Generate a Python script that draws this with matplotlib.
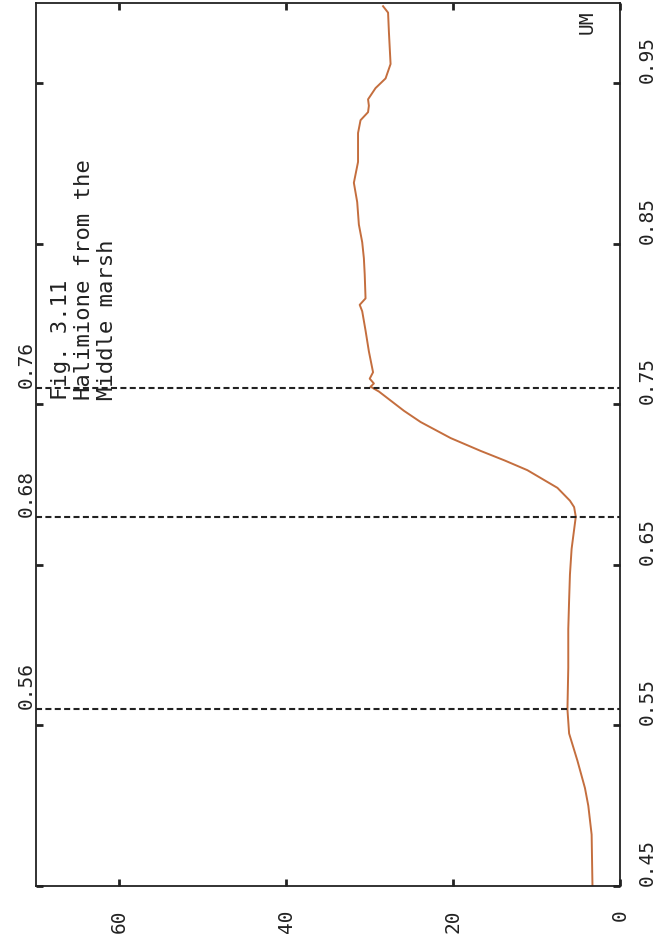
#!/usr/bin/env python3
import matplotlib

matplotlib.use("Agg")
import matplotlib.pyplot as plt

# Spectral reflectance of Halimione (middle marsh); the chart is drawn
# turned on its side, so wavelength runs up the page and reflectance leftwards.
wavelength = [
    0.450, 0.482, 0.500, 0.511, 0.528, 0.545, 0.560, 0.586, 0.610, 0.628,
    0.644, 0.660, 0.668, 0.680, 0.686, 0.690, 0.698, 0.709, 0.715, 0.721,
    0.729, 0.739, 0.746, 0.752, 0.758, 0.761, 0.763, 0.766, 0.770, 0.783,
    0.796, 0.808, 0.812, 0.816, 0.831, 0.841, 0.851, 0.862, 0.876, 0.888,
    0.901, 0.919, 0.927, 0.932, 0.936, 0.940, 0.947, 0.953, 0.962, 0.982,
    0.994, 0.998,
]
reflectance = [
    3.3, 3.4, 3.8, 4.2, 5.1, 6.1, 6.3, 6.2, 6.2, 6.1,
    6.0, 5.8, 5.6, 5.3, 5.5, 6.0, 7.5, 11.1, 13.8, 16.7,
    20.3, 23.9, 25.9, 27.4, 28.9, 29.9, 29.5, 30.0, 29.6, 30.1,
    30.5, 30.9, 31.2, 30.5, 30.6, 30.7, 30.9, 31.3, 31.5, 31.9,
    31.4, 31.4, 31.1, 30.2, 30.1, 30.2, 29.3, 28.1, 27.5, 27.7,
    27.8, 28.4,
]

refl_ticks = [0, 20, 40, 60]
refl_labels = ["0", "20", "40", "60"]
wl_ticks = [0.45, 0.55, 0.65, 0.75, 0.85, 0.95]
wl_labels = ["0.45", "0.55", "0.65", "0.75", "0.85", "0.95"]
marker_wl = [0.56, 0.68, 0.76]
marker_labels = ["0.56", "0.68", "0.76"]
title_lines = ["Fig. 3.11", "Halimione from the", "Middle marsh"]
unit_label = "UM"

FONT = "DejaVu Sans Mono"
INK = "#222222"

fig = plt.figure(figsize=(6.58, 9.5), dpi=100)
W, H = 658, 950
ax = fig.add_axes([36 / W, (H - 886) / H, (620 - 36) / W, (886 - 3) / H])

ax.plot(reflectance, wavelength, color="#c46e3e", linewidth=1.4)

for wl, lab in zip(marker_wl, marker_labels):
    ax.axhline(wl, color=INK, linewidth=1.5, linestyle=(0, (2.9, 1.6)))
    ax.text(-0.016, wl, lab, transform=ax.get_yaxis_transform(), rotation=90,
            ha="center", va="bottom", fontsize=14, family=FONT, color=INK,
            clip_on=False)

ax.set_xlim(70, 0)
ax.set_ylim(0.45, 1.0)

ax.set_xticks(refl_ticks, labels=refl_labels, rotation=90, va="top",
              ha="center", family=FONT, fontsize=14, color=INK)
ax.set_yticks(wl_ticks, labels=wl_labels, rotation=90, va="bottom",
              ha="left", family=FONT, fontsize=14, color=INK)

ax.tick_params(axis="x", direction="in", top=True, bottom=True, length=5,
               width=2, pad=17, colors=INK)
ax.tick_params(axis="y", direction="in", left=True, right=True,
               labelleft=False, labelright=True, length=5, width=2, pad=13,
               colors=INK)

for sp in ax.spines.values():
    sp.set_linewidth(1.3)
    sp.set_color(INK)

ax.text(0.026, 0.753, "\n".join(title_lines), transform=ax.get_yaxis_transform(),
        rotation=90, ha="left", va="bottom", multialignment="left",
        fontsize=16, family=FONT, color=INK, linespacing=1.17)

ax.text(0.943, 0.992, unit_label, transform=ax.transAxes, rotation=90,
        ha="center", va="top", fontsize=14, family=FONT, color=INK)

fig.savefig("out.png", dpi=100, facecolor="white")
